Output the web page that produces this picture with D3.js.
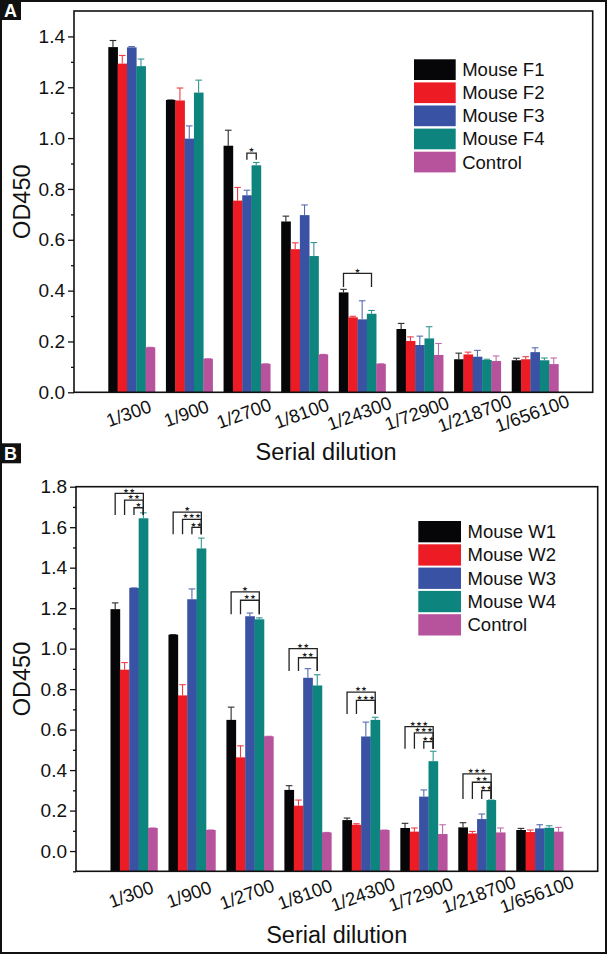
<!DOCTYPE html>
<html><head><meta charset="utf-8">
<script src="https://cdn.jsdelivr.net/npm/d3@7"></script>
<style>
html,body{margin:0;padding:0;background:#fff;}
text{font-family:"Liberation Sans",Arial,sans-serif;}
text.star{font-family:"DejaVu Sans",sans-serif;}
</style></head>
<body>
<svg id="chart" width="610" height="955"></svg>
<script>
// ---------- data ----------
const categories = ["1/300","1/900","1/2700","1/8100","1/24300","1/72900","1/218700","1/656100"];
const colors = ["#060608","#ed1c24","#3a52a3","#0e847f","#b7529d"];

const seriesA = ["Mouse F1","Mouse F2","Mouse F3","Mouse F4","Control"];
const meansA = [
  [1.358,1.150,0.970,0.672,0.393,0.249,0.130,0.126],
  [1.293,1.148,0.754,0.563,0.295,0.202,0.149,0.130],
  [1.357,0.998,0.775,0.697,0.287,0.186,0.140,0.158],
  [1.283,1.179,0.893,0.536,0.309,0.212,0.127,0.126],
  [0.177,0.132,0.112,0.149,0.112,0.147,0.123,0.111]
];
const errA = [
  [0.026,0.000,0.061,0.021,0.012,0.022,0.024,0.008],
  [0.032,0.049,0.052,0.025,0.004,0.016,0.009,0.010],
  [0.003,0.050,0.020,0.040,0.073,0.035,0.025,0.017],
  [0.028,0.049,0.011,0.053,0.013,0.046,0.003,0.009],
  [0.000,0.000,0.000,0.000,0.000,0.045,0.020,0.024]
];
// [category, from series, to series, top value, leg bottom value, label]
const sigA = [
  [2,2,3,0.941,0.915,"*"],
  [4,0,3,0.468,0.414,"*"]
];

const seriesB = ["Mouse W1","Mouse W2","Mouse W3","Mouse W4","Control"];
const meansB = [
  [1.195,1.069,0.648,0.302,0.153,0.114,0.117,0.104],
  [0.896,0.769,0.463,0.224,0.130,0.096,0.087,0.094],
  [1.300,1.244,1.160,0.856,0.566,0.269,0.158,0.112],
  [1.644,1.495,1.145,0.818,0.648,0.444,0.252,0.115],
  [0.114,0.104,0.567,0.092,0.104,0.084,0.092,0.096]
];
const errB = [
  [0.031,0.000,0.063,0.021,0.010,0.023,0.023,0.008],
  [0.035,0.053,0.057,0.028,0.005,0.018,0.010,0.010],
  [0.000,0.051,0.016,0.045,0.071,0.033,0.025,0.018],
  [0.027,0.051,0.007,0.053,0.013,0.049,0.000,0.010],
  [0.000,0.000,0.000,0.000,0.000,0.046,0.022,0.021]
];
const sigB = [
  [0,0,3,1.767,1.660,"**"],[0,1,3,1.734,1.660,"**"],[0,2,3,1.696,1.660,"*"],
  [1,0,3,1.674,1.565,"*"],[1,1,3,1.639,1.565,"***"],[1,2,3,1.599,1.565,"**"],
  [2,0,3,1.280,1.170,"*"],[2,1,3,1.239,1.170,"**"],
  [3,0,3,1.000,0.889,"**"],[3,1,3,0.955,0.889,"**"],
  [4,0,3,0.785,0.677,"**"],[4,1,3,0.744,0.677,"***"],
  [5,0,3,0.615,0.505,"***"],[5,1,3,0.584,0.505,"***"],[5,2,3,0.541,0.505,"**"],
  [6,0,3,0.381,0.257,"***"],[6,1,3,0.340,0.257,"**"],[6,2,3,0.299,0.257,"**"]
];

const yTicksA = [0,0.2,0.4,0.6,0.8,1.0,1.2,1.4];
const yMinorA = [0.1,0.3,0.5,0.7,0.9,1.1,1.3];
const yTicksB = [0,0.2,0.4,0.6,0.8,1.0,1.2,1.4,1.6,1.8];
const yMinorB = [-0.1,0.1,0.3,0.5,0.7,0.9,1.1,1.3,1.5,1.7];

// ---------- drawing ----------
const svg = d3.select("#chart");
svg.append("rect").attr("x",1).attr("y",1).attr("width",605).attr("height",952)
  .attr("fill","none").attr("stroke","#111").attr("stroke-width",2);

function panelLabel(letter, y){
  svg.append("rect").attr("x",0).attr("y",y).attr("width",21).attr("height",20).attr("fill","#111");
  svg.append("text").attr("x",10.5).attr("y",y+17).attr("text-anchor","middle")
    .attr("font-size",18).attr("font-weight","bold").attr("fill","#fff").text(letter);
}

function drawPanel(cfg){
  const g = svg.append("g");
  const x = d3.scaleLinear().domain([0,categories.length+1]).range([cfg.left,cfg.right]);
  const y = d3.scaleLinear().domain(cfg.yDomain).range([cfg.bottom,cfg.top]);
  const bw = (x(1)-x(0))*0.162;
  const barX = (ci,si) => x(ci+1) - 2.5*bw + si*bw;

  // bars
  cfg.means.forEach((row,si)=>{
    const sg = g.append("g");
    sg.selectAll("rect").data(row).join("rect")
      .attr("x",(d,ci)=>barX(ci,si))
      .attr("width",bw+0.3)
      .attr("y",d=>y(d))
      .attr("height",d=>y(cfg.yDomain[0])-y(d))
      .attr("fill",colors[si]);
    // error bars (upper half)
    const eg = g.append("g").attr("stroke",colors[si]).attr("stroke-width",1.1).attr("opacity",0.85);
    row.forEach((d,ci)=>{
      const e = cfg.err[si][ci];
      const cx = barX(ci,si)+bw/2;
      eg.append("line").attr("x1",cx).attr("x2",cx).attr("y1",y(d)).attr("y2",y(d+e));
      eg.append("line").attr("x1",cx-3.3).attr("x2",cx+3.3).attr("y1",y(d+e)).attr("y2",y(d+e));
    });
  });

  // significance brackets
  const bg = g.append("g");
  cfg.sig.forEach(([ci,a,b,top,bot,lab])=>{
    const x1 = barX(ci,a)+bw/2, x2 = barX(ci,b)+bw/2;
    bg.append("path")
      .attr("d",`M${x1},${y(bot)}V${y(top)}H${x2}V${y(bot)}`)
      .attr("fill","none").attr("stroke","#222").attr("stroke-width",1.3);
    bg.append("text").attr("class","star").attr("x",(x1+x2)/2).attr("y",y(top)-0.8)
      .attr("text-anchor","middle").attr("font-size",6.6)
      .attr("letter-spacing",0.3).attr("fill","#222").text(lab.replace(/\*/g,"\u2605"));
  });

  // y axis
  const ya = g.append("g").attr("transform",`translate(${cfg.left},0)`)
    .call(d3.axisLeft(y).tickValues(cfg.yTicks).tickSize(6).tickPadding(3).tickFormat(d3.format(".1f")));
  ya.select(".domain").remove();
  ya.selectAll("line").attr("stroke","#111").attr("stroke-width",1.3);
  ya.selectAll("text").attr("font-size",19).attr("fill","#111")
    .attr("font-family","'Liberation Sans',Arial,sans-serif");
  const ym = g.append("g").attr("transform",`translate(${cfg.left},0)`)
    .call(d3.axisLeft(y).tickValues(cfg.yMinor).tickSize(3).tickFormat(""));
  ym.select(".domain").remove();
  ym.selectAll("line").attr("stroke","#111").attr("stroke-width",1.3);

  // x axis
  const xa = g.append("g").attr("transform",`translate(0,${cfg.bottom})`)
    .call(d3.axisBottom(x).tickValues(d3.range(1,categories.length+1)).tickSize(0)
      .tickFormat(d=>categories[d-1]));
  xa.select(".domain").remove();
  xa.selectAll("text").attr("font-size",18.5).attr("fill","#111")
    .attr("font-family","'Liberation Sans',Arial,sans-serif")
    .attr("x",0).attr("y",0).attr("dy",null)
    .attr("text-anchor","middle").attr("dominant-baseline","central")
    .attr("transform",`translate(-3.5,${cfg.xLabOff}) rotate(-20)`);

  // frame
  g.append("rect").attr("x",cfg.left).attr("y",cfg.top)
    .attr("width",cfg.right-cfg.left).attr("height",cfg.bottom-cfg.top)
    .attr("fill","none").attr("stroke","#111").attr("stroke-width",1.6);

  // axis titles
  g.append("text").attr("x",cfg.xTitleX).attr("y",cfg.xTitleY).attr("text-anchor","middle")
    .attr("font-size",23.5).attr("fill","#111").text("Serial dilution");
  g.append("text").attr("transform",`translate(30,${(cfg.top+cfg.bottom)/2}) rotate(-90)`)
    .attr("text-anchor","middle").attr("font-size",23.5).attr("fill","#111").text("OD450");

  // legend
  const lg = g.append("g");
  cfg.series.forEach((s,i)=>{
    const yy = cfg.legY + i*cfg.legStep;
    lg.append("rect").attr("x",cfg.legX).attr("y",yy).attr("width",cfg.legW).attr("height",cfg.legH)
      .attr("fill",colors[i]);
    lg.append("text").attr("x",cfg.legX+cfg.legW+6.5).attr("y",yy+cfg.legH/2)
      .attr("dominant-baseline","central").attr("font-size",18.5).attr("fill","#111").text(s);
  });
}

drawPanel({
  left:74, right:592.7, top:11, bottom:392.3, yDomain:[0,1.5],
  means:meansA, err:errA, sig:sigA, series:seriesA,
  yTicks:yTicksA, yMinor:yMinorA, xLabOff:21,
  xTitleX:326, xTitleY:460,
  legX:414, legY:59.3, legW:41.7, legH:20.7, legStep:23.1
});
drawPanel({
  left:76, right:597.7, top:486.7, bottom:871.3, yDomain:[-0.1,1.8],
  means:meansB, err:errB, sig:sigB, series:seriesB,
  yTicks:yTicksB, yMinor:yMinorB, xLabOff:23,
  xTitleX:336.7, xTitleY:943,
  legX:418.3, legY:521, legW:42.7, legH:21.3, legStep:23.3
});

panelLabel("A",0);
panelLabel("B",443.3);
</script>
</body></html>
